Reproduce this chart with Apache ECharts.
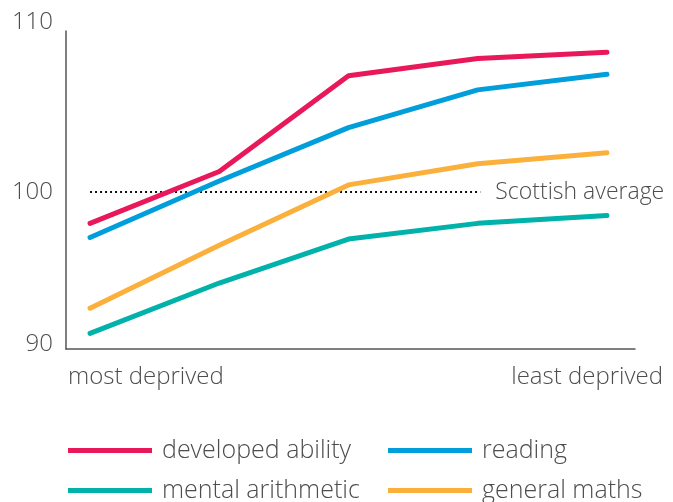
<!DOCTYPE html>
<html lang="en">
<head>
    <meta charset="UTF-8">
    <script src="https://cdn.jsdelivr.net/npm/echarts@6/dist/echarts.min.js"></script>
    <style type="text/css">
        html, body, #main {
            height: 100%;
            width: 100%;
            margin: 0;
            padding: 0;
            background: #fff;
        }
    </style>
    <title>Deprivation and attainment</title>
</head>
<body>
<div id="main"></div>
<script>
    // five deprivation groups, most deprived -> least deprived
    var groups = [0, 1, 2, 3, 4];
    var developedAbility = [98.0, 101.3, 107.4, 108.5, 108.9];
    var reading = [97.1, 100.7, 104.1, 106.5, 107.5];
    var mentalArithmetic = [91.0, 94.2, 97.0, 98.0, 98.5];
    var generalMaths = [92.6, 96.6, 100.45, 101.8, 102.5];
    var scottishAverage = 100;
    var averageSpan = [0, 3.02];
    var yTicks = [90, 100, 110];

    var font = 'Open Sans';
    var weight = 300;
    var textColor = '#4d4d4d';

    function pairs(values) {
        return values.map(function (v, i) { return [groups[i], v]; });
    }

    function lineSeries(name, values, color) {
        return {
            name: name,
            type: 'line',
            data: pairs(values),
            showSymbol: false,
            color: color,
            lineStyle: {width: 5, color: color, cap: 'round', join: 'round'}
        };
    }

    function legendItem(name, left, top) {
        return {
            left: left,
            top: top,
            icon: 'rect',
            itemWidth: 84,
            itemHeight: 5,
            textStyle: {fontFamily: font, fontWeight: weight, fontSize: 25, color: textColor, padding: [0, 0, 0, 5]},
            data: [name]
        };
    }

    var labelStyle = {fontFamily: font, fontWeight: weight, fontSize: 24, color: textColor};

    var myChart = echarts.init(document.getElementById('main'));
    var option = {
        animation: false,
        grid: {left: 66, right: 38, top: 31, bottom: 153},
        xAxis: {
            type: 'value',
            min: -0.186,
            max: 4.217,
            axisLine: {onZero: false, lineStyle: {color: '#555', width: 1.5}},
            axisTick: {show: false},
            axisLabel: {show: false},
            splitLine: {show: false}
        },
        yAxis: {
            type: 'value',
            min: yTicks[0],
            max: 110.25,
            interval: 10,
            axisLine: {show: true, onZero: false, lineStyle: {color: '#555', width: 1.5}},
            axisTick: {show: false},
            splitLine: {show: false},
            axisLabel: {
                margin: 13,
                formatter: function (v) {
                    if (yTicks.indexOf(v) < 0) return '';
                    if (v === 110) return '{a|110}';
                    if (v === 90) return '{b|90}';
                    return '{c|' + v + '}';
                },
                rich: {
                    a: Object.assign({padding: [0, 0, 26, 0]}, labelStyle),
                    b: Object.assign({padding: [0, 0, 10, 0]}, labelStyle),
                    c: labelStyle
                }
            }
        },
        legend: [
            legendItem('developed ability', 63, 433),
            legendItem('reading', 383, 433),
            legendItem('mental arithmetic', 63, 473),
            legendItem('general maths', 383, 473)
        ],
        graphic: [{
            type: 'text',
            left: 68,
            top: 365,
            style: {text: 'most deprived', font: weight + ' 24px "' + font + '"', fill: textColor}
        }, {
            type: 'text',
            right: 10,
            top: 365,
            style: {text: 'least deprived', font: weight + ' 24px "' + font + '"', fill: textColor}
        }],
        series: [
            {
                name: 'Scottish average',
                type: 'line',
                data: averageSpan.map(function (x) { return [x, scottishAverage]; }),
                showSymbol: false,
                z: 1,
                lineStyle: {width: 2, color: '#111', type: [2, 3], cap: 'butt'},
                endLabel: {
                    show: true,
                    formatter: 'Scottish average',
                    distance: 15,
                    offset: [0, 0],
                    fontFamily: font,
                    fontWeight: weight,
                    fontSize: 23,
                    color: textColor
                }
            },
            lineSeries('developed ability', developedAbility, '#E8185A'),
            lineSeries('reading', reading, '#009EDB'),
            lineSeries('mental arithmetic', mentalArithmetic, '#00B2A9'),
            lineSeries('general maths', generalMaths, '#FBB03B')
        ]
    };
    myChart.setOption(option);
</script>
</body>
</html>
